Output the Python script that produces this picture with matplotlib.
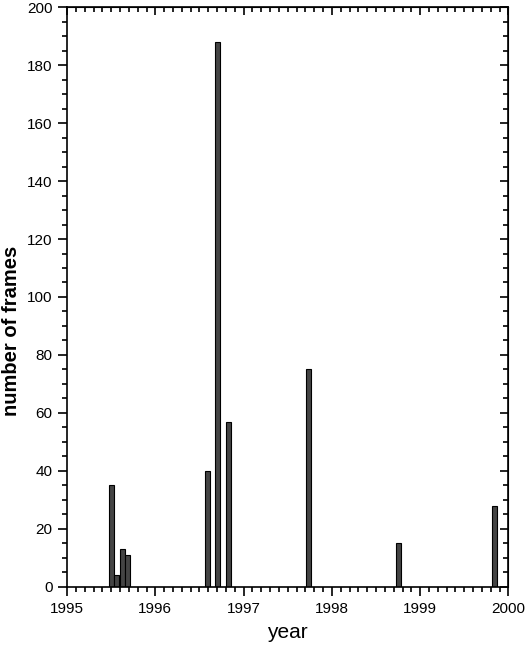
import numpy as np
from matplotlib import pyplot as plt
from matplotlib.ticker import MultipleLocator

# frames per observing period (year as decimal)
years = [1995.506, 1995.565, 1995.627, 1995.687,
         1996.59, 1996.706, 1996.826,
         1997.735, 1998.754, 1999.84]
frames = [35, 4, 13, 11, 40, 188, 57, 75, 15, 28]
bar_width = 0.057

x_ticks = [1995, 1996, 1997, 1998, 1999, 2000]
y_ticks = list(range(0, 201, 20))

plt.rcParams['font.family'] = ['Liberation Sans', 'DejaVu Sans']

fig = plt.figure(figsize=(5.28, 6.46), dpi=100)
ax = fig.add_axes([0.127, 0.0918, 0.836, 0.897])

ax.bar(years, frames, width=bar_width, color='#444444', edgecolor='black', linewidth=0.8)

ax.set_xlim(1995, 2000)
ax.set_ylim(0, 200)
ax.set_xticks(x_ticks)
ax.set_yticks(y_ticks)
ax.xaxis.set_minor_locator(MultipleLocator(0.1))
ax.yaxis.set_minor_locator(MultipleLocator(5))
ax.tick_params(which='major', direction='out', length=6.5, width=1.2, labelsize=11, pad=4)
ax.tick_params(which='minor', direction='out', length=3.6, width=1.2)
ax.tick_params(axis='x', which='major', pad=4.5)

for s in ax.spines.values():
	s.set_linewidth(1.2)

# top / right axes carry inward ticks only
top = ax.secondary_xaxis('top')
top.set_xticks(x_ticks)
top.xaxis.set_minor_locator(MultipleLocator(0.1))
top.tick_params(which='major', direction='in', length=6, width=1.2, labeltop=False)
top.tick_params(which='minor', direction='in', length=3.6, width=1.2)
right = ax.secondary_yaxis('right')
right.set_yticks(y_ticks)
right.yaxis.set_minor_locator(MultipleLocator(5))
right.tick_params(which='major', direction='in', length=6, width=1.2, labelright=False)
right.tick_params(which='minor', direction='in', length=3.6, width=1.2)

ax.set_xlabel('year', fontsize=15)
ax.set_ylabel('number of frames', fontsize=14.5, fontweight='bold')
ax.xaxis.set_label_coords(0.5, -0.0627)
ax.yaxis.set_label_coords(-0.105, 0.441)

plt.savefig('out.png', dpi=100)
plt.close()
